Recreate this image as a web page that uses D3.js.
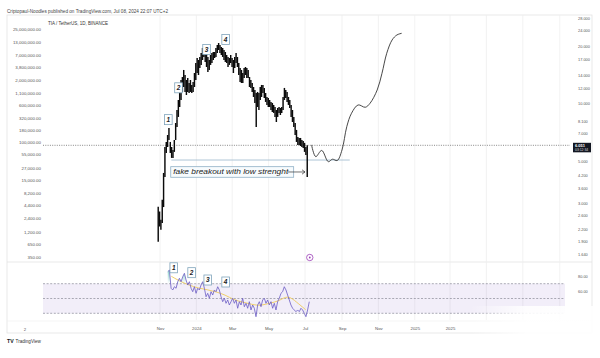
<!DOCTYPE html>
<html><head><meta charset="utf-8">
<script src="https://cdn.jsdelivr.net/npm/d3@7"></script>
<style>html,body{margin:0;padding:0;background:#fff;}svg{display:block;font-family:"Liberation Sans",Arial,sans-serif;}</style>
</head><body><svg id="c" width="600" height="358"></svg>
<script>
// ---------- data ----------
const headerText = "Criptopaul-Noodles published on TradingView.com, Jul 08, 2024 22:07 UTC+2";
const symbolText = "TIA / TetherUS, 1D, BINANCE";
const barStart = "2023-10-29";
const barStepDays = 2.25;
const barHigh = [2.89,2.73,2.47,3.14,4.34,5.93,6.30,6.85,7.46,6.30,
  5.93,5.72,6.45,7.91,9.25,10.43,11.77,13.27,13.75,14.97,
  14.09,13.27,13.59,12.80,13.27,12.50,12.96,14.43,16.28,17.29,
  16.88,17.50,18.36,19.50,19.73,19.03,18.36,17.50,16.88,17.92,
  18.36,18.58,18.58,19.50,20.21,20.70,20.21,19.73,19.50,19.03,
  18.58,17.92,17.50,17.29,17.92,17.29,16.88,17.50,18.36,17.50,
  16.28,15.33,14.97,14.43,15.33,15.51,15.33,14.97,13.75,13.27,
  12.80,12.20,11.77,11.35,11.49,11.35,12.20,12.50,12.50,12.06,
  11.35,10.82,10.69,10.43,10.19,10.07,9.83,9.59,9.25,9.48,
  9.59,9.48,9.59,10.82,12.06,11.77,11.49,10.82,10.43,9.83,
  9.25,8.51,7.91,7.28,6.69,6.61,6.61,6.45,6.38,6.23,
  5.93,6.05];
const barLow = [1.90,2.28,2.19,2.38,2.88,4.14,5.52,5.93,6.45,5.52,
  5.20,5.20,5.59,6.45,7.54,8.51,9.59,10.43,11.49,12.20,
  11.49,11.08,11.49,11.35,11.49,11.35,11.49,12.20,13.27,14.43,
  14.09,15.33,15.90,16.88,17.50,16.48,15.51,14.61,14.97,15.90,
  16.28,16.88,17.29,17.50,18.36,19.03,18.36,17.92,17.50,16.88,
  16.48,16.28,15.51,15.90,16.28,15.51,14.43,15.33,16.28,15.51,
  14.09,12.96,12.80,12.80,13.59,14.09,13.59,13.59,12.20,12.06,
  11.49,10.82,10.07,7.54,9.59,9.25,10.43,10.82,11.35,10.69,
  10.19,9.83,9.59,9.59,9.25,9.03,8.93,8.51,8.01,8.51,
  8.93,8.71,8.93,9.25,10.43,10.69,10.19,9.83,9.48,8.51,
  8.01,7.54,6.85,6.30,6.08,6.08,6.00,5.93,5.86,5.59,
  5.39,4.14];
const lastPrice = 6.051;
const lastTimer = "03:12:34";
const projDates = ["2024-07-12","2024-07-19","2024-07-29","2024-08-09","2024-08-16","2024-08-24","2024-09-01","2024-09-09","2024-09-17","2024-09-28","2024-10-10","2024-10-18","2024-10-30","2024-11-07","2024-11-15","2024-11-24","2024-12-02","2024-12-10"];
const projPrices = [6.08,5.28,5.69,4.97,5.12,5.04,5.72,7.57,8.90,9.83,9.56,10.03,11.77,14.38,18.30,21.47,22.80,23.26];
const supportPrice = 5.07;
const supportDates = ["2023-11-20","2024-09-14"];
const noteText = "fake breakout with low strenght";
const noteDates = ["2023-11-19","2024-06-12"];
const notePrices = [4.68,4.12];
const noteArrowEnd = "2024-07-01";
const waveLabels = ["1","2","3","4"];
const waveDates = ["2023-11-15","2023-12-02","2024-01-18","2024-02-19"];
const wavePrices = [8.24,12.08,19.14,21.60];
const rsiWaveDates = ["2023-11-24","2023-12-24","2024-01-20","2024-02-19"];
const rsiWaveValues = [91.5,84.9,75.0,72.3];
const rsiStart = "2023-11-14";
const rsiStepDays = 2.79;
const rsiValues = [86.3,88.5,63.8,61.5,65.9,63.8,72.7,77.3,72.7,79.5,
  84.1,75.0,68.2,72.7,63.8,59.2,65.9,57.0,63.8,61.5,
  68.2,72.7,63.8,52.4,57.0,50.3,59.2,54.7,61.5,59.2,
  65.9,61.5,52.4,45.7,50.3,43.5,48.0,41.2,45.7,50.3,
  43.5,48.0,36.8,45.7,41.2,50.3,38.9,43.5,36.8,45.7,
  34.5,41.2,36.8,25.4,41.2,45.7,38.9,48.0,50.3,43.5,
  48.0,41.2,45.7,36.8,43.5,34.5,45.7,50.3,57.0,59.2,
  65.9,61.5,54.7,48.0,41.2,36.8,34.5,32.2,34.5,32.2,
  36.8,34.5,30.0,25.4,34.5,45.7];
const rsiMaDates = ["2023-11-20","2023-12-05","2023-12-20","2024-01-04","2024-01-19","2024-02-03","2024-02-18","2024-03-04","2024-03-19","2024-04-03","2024-04-18","2024-05-03","2024-05-18","2024-06-02","2024-06-17","2024-07-02"];
const rsiMaValues = [80,73,68,64,62,59,55,48,45,42,40,44,46,55,45,35];
const rsiBands = [70,50,30];
const eventDate = "2024-07-09";
const xTickDates = ["2023-11-01","2024-01-01","2024-03-01","2024-05-01","2024-07-01","2024-09-01","2024-11-01","2025-01-01","2025-03-01"];
const xTickLabels = ["Nov","2024","Mar","May","Jul","Sep","Nov","2025","2025"];
const extraGridDates = ["2025-05-01","2025-07-01","2025-09-01"];
const leftTicks = [25e6,13e6,7e6,3.8e6,2e6,1.1e6,6e5,3.2e5,1.8e5,1e5,5.5e4,2.7e4,1.5e4,8200,4400,2400,1200,650,350];
const rightTicks = [28,24,20,17,14,12,10,8.1,7,5,4.2,3.6,3,2.6,2.2,1.9,1.64];
const rsiTicks = [80,60];

// ---------- layout ----------
const svg = d3.select("#c");
const P = {left:43, right:570, top:15, mainBottom:262, rsiTop:262, rsiBottom:320, axisBottom:333};
const pd = s => d3.utcParse("%Y-%m-%d")(s);
const DAY = 864e5;

const xRef = d3.scaleUtc().domain([pd("2023-11-01"), pd("2024-07-01")]).range([160,305]);
const x = d3.scaleUtc().domain([xRef.invert(P.left), xRef.invert(P.right)]).range([P.left,P.right]);
const yRRef = d3.scaleLog().domain([1.64,24]).range([253.9,30.7]);
const yR = d3.scaleLog().domain([yRRef.invert(P.mainBottom), yRRef.invert(P.top)]).range([P.mainBottom,P.top]);
const yLRef = d3.scaleLog().domain([350,25e6]).range([257,29]);
const yL = d3.scaleLog().domain([yLRef.invert(P.mainBottom), yLRef.invert(P.top)]).range([P.mainBottom,P.top]);
const rRef = d3.scaleLinear().domain([30,70]).range([313.3,283.7]);
const yRsi = d3.scaleLinear().domain([rRef.invert(P.rsiBottom), rRef.invert(P.rsiTop)]).range([P.rsiBottom,P.rsiTop]);

const defs = svg.append("defs");
defs.append("clipPath").attr("id","mainClip").append("rect").attr("x",P.left).attr("y",P.top).attr("width",P.right-P.left).attr("height",P.mainBottom-P.top);
const gOver = defs.append("linearGradient").attr("id","ob").attr("gradientUnits","userSpaceOnUse").attr("x1",0).attr("x2",0).attr("y1",yRsi(100)).attr("y2",yRsi(70));
gOver.append("stop").attr("offset",0).attr("stop-color","#26a69a").attr("stop-opacity",0.9);
gOver.append("stop").attr("offset",1).attr("stop-color","#26a69a").attr("stop-opacity",0);
defs.append("clipPath").attr("id","obClip").append("rect").attr("x",P.left).attr("y",P.rsiTop).attr("width",P.right-P.left).attr("height",yRsi(70)-P.rsiTop);
const fade = defs.append("linearGradient").attr("id","fade").attr("x1",0).attr("x2",1).attr("y1",0).attr("y2",0);
fade.append("stop").attr("offset",0).attr("stop-color","#fff").attr("stop-opacity",0);
fade.append("stop").attr("offset",0.45).attr("stop-color","#fff").attr("stop-opacity",0.9);
fade.append("stop").attr("offset",1).attr("stop-color","#fff").attr("stop-opacity",0.95);

// frame
const frame = "#e3e3e3";
svg.append("rect").attr("x",7).attr("y",P.top).attr("width",585).attr("height",P.axisBottom-P.top).attr("fill","none").attr("stroke",frame).attr("stroke-width",0.8);
svg.append("line").attr("x1",7).attr("x2",592).attr("y1",P.mainBottom).attr("y2",P.mainBottom).attr("stroke",frame).attr("stroke-width",0.8);
svg.append("line").attr("x1",7).attr("x2",592).attr("y1",P.rsiBottom+1).attr("y2",P.rsiBottom+1).attr("stroke","#efefef").attr("stroke-width",0.6);

// grid
const gridDates = xTickDates.concat(extraGridDates).map(pd);
svg.append("g").selectAll("line").data(gridDates).join("line")
  .attr("x1",d=>x(d)).attr("x2",d=>x(d)).attr("y1",P.top).attr("y2",P.rsiBottom)
  .attr("stroke","#efefef").attr("stroke-width",0.8);

// header
svg.append("text").attr("x",7).attr("y",12.5).attr("font-size",4.6).attr("fill","#444")
  .attr("textLength",161).attr("lengthAdjust","spacingAndGlyphs").text(headerText);
svg.append("text").attr("x",48).attr("y",24.6).attr("font-size",4.6).attr("fill","#333")
  .attr("textLength",60).attr("lengthAdjust","spacingAndGlyphs").text(symbolText);

// left axis
const ax = svg.append("g").attr("transform",`translate(41,0)`)
  .call(d3.axisLeft(yL).tickValues(leftTicks).tickFormat(d3.format(",.2f")).tickSize(0).tickPadding(0));
ax.select(".domain").remove();
ax.selectAll("text").attr("font-size",4.4).attr("fill","#555").attr("font-family","Liberation Sans, Arial, sans-serif");

// right axis
const ar = svg.append("g").attr("transform",`translate(578,0)`)
  .call(d3.axisRight(yR).tickValues(rightTicks).tickFormat(d3.format(".3f")).tickSize(0).tickPadding(0));
ar.select(".domain").remove();
ar.selectAll("text").attr("font-size",3.9).attr("fill","#555").attr("font-family","Liberation Sans, Arial, sans-serif");

// rsi right axis
const arr = svg.append("g").attr("transform",`translate(578,0)`)
  .call(d3.axisRight(yRsi).tickValues(rsiTicks).tickFormat(d3.format(".2f")).tickSize(0).tickPadding(0));
arr.select(".domain").remove();
arr.selectAll("text").attr("font-size",3.9).attr("fill","#555").attr("font-family","Liberation Sans, Arial, sans-serif");

// x axis
const axb = svg.append("g").attr("transform",`translate(0,${P.rsiBottom+6.5})`)
  .call(d3.axisBottom(x).tickValues(xTickDates.map(pd)).tickFormat((d,i)=>xTickLabels[i]).tickSize(0).tickPadding(0));
axb.select(".domain").remove();
axb.selectAll("text").attr("font-size",4.3).attr("fill","#555").attr("font-family","Liberation Sans, Arial, sans-serif");
svg.append("text").attr("x",25).attr("y",330.5).attr("font-size",4.3).attr("fill","#555").attr("text-anchor","middle").text("2");

// main pane
const main = svg.append("g").attr("clip-path","url(#mainClip)");
main.append("line").attr("x1",P.left).attr("x2",P.right).attr("y1",yR(lastPrice)).attr("y2",yR(lastPrice))
  .attr("stroke","#555").attr("stroke-width",0.7).attr("stroke-dasharray","1,1.3");
main.append("line").attr("x1",x(pd(supportDates[0]))).attr("x2",x(pd(supportDates[1])))
  .attr("y1",yR(supportPrice)).attr("y2",yR(supportPrice)).attr("stroke","#9bb8cc").attr("stroke-width",0.8);
const t0 = pd(barStart).getTime();
const bars = barHigh.map((h,i)=>({d:new Date(t0+i*barStepDays*DAY),h,l:barLow[i]}));
main.append("g").selectAll("line").data(bars).join("line")
  .attr("x1",d=>x(d.d)).attr("x2",d=>x(d.d)).attr("y1",d=>yR(d.h)).attr("y2",d=>yR(d.l))
  .attr("stroke","#0a0a0a").attr("stroke-width",1.45);
const proj = projDates.map((d,i)=>({d:pd(d),p:projPrices[i]}));
main.append("path").datum(proj)
  .attr("d",d3.line().x(d=>x(d.d)).y(d=>yR(d.p)).curve(d3.curveCatmullRom))
  .attr("fill","none").attr("stroke","#333").attr("stroke-width",0.9);
const nx0 = x(pd(noteDates[0])), nx1 = x(pd(noteDates[1]));
const ny0 = yR(notePrices[0]), ny1 = yR(notePrices[1]);
main.append("rect").attr("x",nx0).attr("y",ny0).attr("width",nx1-nx0).attr("height",ny1-ny0)
  .attr("fill","#f7fbfd").attr("stroke","#8fb0c6").attr("stroke-width",0.8);
main.append("text").attr("x",nx0+2.5).attr("y",(ny0+ny1)/2+2.2).attr("font-size",6.6).attr("font-style","italic")
  .attr("fill","#222").attr("textLength",115).attr("lengthAdjust","spacingAndGlyphs").text(noteText);
const ay = (ny0+ny1)/2;
const axEnd = x(pd(noteArrowEnd));
main.append("line").attr("x1",nx1-6).attr("x2",axEnd).attr("y1",ay).attr("y2",ay).attr("stroke","#333").attr("stroke-width",0.7);
main.append("path").attr("d",`M${axEnd-3},${ay-2.2}L${axEnd},${ay}L${axEnd-3},${ay+2.2}`).attr("fill","none").attr("stroke","#333").attr("stroke-width",0.7);

function waveBox(g,cx,cy,label){
  g.append("rect").attr("x",cx-3.8).attr("y",cy-5).attr("width",7.6).attr("height",10)
    .attr("fill","#fff").attr("stroke","#7fa4bb").attr("stroke-width",0.8);
  g.append("text").attr("x",cx).attr("y",cy+2.3).attr("text-anchor","middle").attr("font-size",6.5)
    .attr("font-style","italic").attr("font-weight","bold").attr("fill","#222").text(label);
}
const wg = svg.append("g");
waveLabels.forEach((lab,i)=>waveBox(wg,x(pd(waveDates[i])),yR(wavePrices[i]),lab));

const pyv = yR(lastPrice);
svg.append("rect").attr("x",573).attr("y",pyv-2.5).attr("width",18).attr("height",9.5).attr("fill","#131722");
svg.append("text").attr("x",575).attr("y",pyv+1.6).attr("font-size",4).attr("fill","#fff").attr("font-weight","bold").text(d3.format(".3f")(lastPrice));
svg.append("text").attr("x",575).attr("y",pyv+5.9).attr("font-size",3.4).attr("fill","#ddd").text(lastTimer);

const ex = x(pd(eventDate)), ey = P.mainBottom-4.5;
svg.append("circle").attr("cx",ex).attr("cy",ey).attr("r",3.2).attr("fill","#fff").attr("stroke","#9c3fb8").attr("stroke-width",0.8);
svg.append("circle").attr("cx",ex).attr("cy",ey).attr("r",0.9).attr("fill","#9c3fb8");

// RSI pane
svg.append("rect").attr("x",P.left).attr("y",yRsi(70)).attr("width",P.right-P.left-5).attr("height",yRsi(30)-yRsi(70))
  .attr("fill","#7e57c2").attr("fill-opacity",0.1);
svg.append("g").selectAll("line").data(rsiBands).join("line")
  .attr("x1",P.left).attr("x2",P.right-5).attr("y1",d=>yRsi(d)).attr("y2",d=>yRsi(d))
  .attr("stroke","#8a8a96").attr("stroke-width",0.7).attr("stroke-dasharray","2,1.6");
const r0 = pd(rsiStart).getTime();
const rsi = rsiValues.map((v,i)=>({d:new Date(r0+i*rsiStepDays*DAY),v}));
svg.append("path").datum(rsi).attr("clip-path","url(#obClip)")
  .attr("d",d3.area().x(d=>x(d.d)).y0(yRsi(70)).y1(d=>yRsi(d.v)))
  .attr("fill","url(#ob)");
const rsiMa = rsiMaDates.map((d,i)=>({d:pd(d),v:rsiMaValues[i]}));
svg.append("path").datum(rsiMa)
  .attr("d",d3.line().x(d=>x(d.d)).y(d=>yRsi(d.v)).curve(d3.curveBasis))
  .attr("fill","none").attr("stroke","#f0cf6a").attr("stroke-width",1);
svg.append("path").datum(rsi)
  .attr("d",d3.line().x(d=>x(d.d)).y(d=>yRsi(d.v)))
  .attr("fill","none").attr("stroke","#6b5cc4").attr("stroke-width",0.8);
const rg = svg.append("g");
waveLabels.forEach((lab,i)=>waveBox(rg,x(pd(rsiWaveDates[i])),yRsi(rsiWaveValues[i]),lab));

svg.append("rect").attr("x",470).attr("y",306).attr("width",125).attr("height",32).attr("fill","url(#fade)");

svg.append("text").attr("x",7).attr("y",343).attr("font-size",5.2).attr("font-weight","bold").attr("fill","#131722").text("TV");
svg.append("text").attr("x",15.5).attr("y",343).attr("font-size",4.6).attr("fill","#333").text("TradingView");
</script></body></html>
